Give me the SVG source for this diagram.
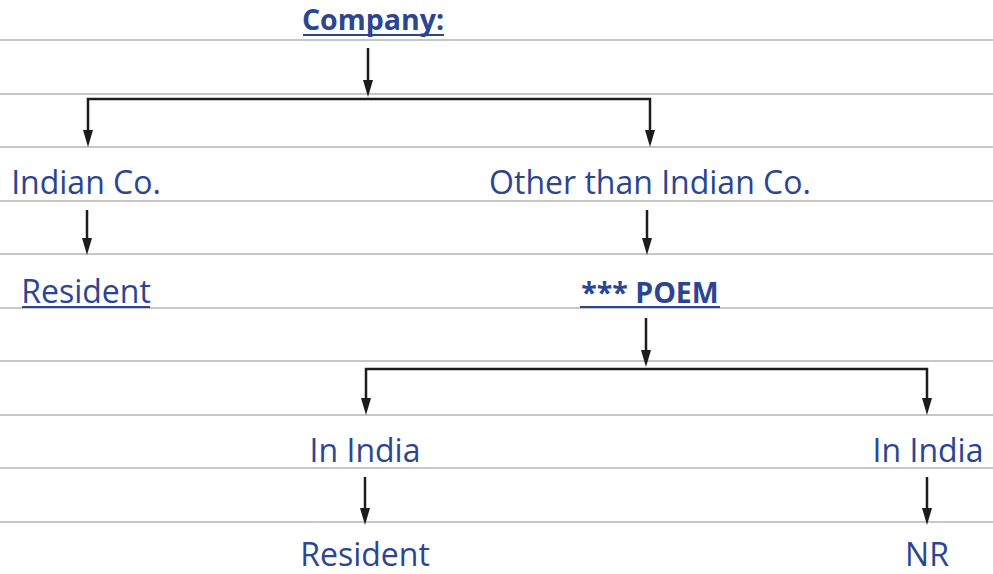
<svg xmlns="http://www.w3.org/2000/svg" width="993" height="574" viewBox="0 0 993 574">
  <style>
    .rule { stroke: #b4b4b4; stroke-width: 1.5; }
    .wire { stroke: #1c1c1c; stroke-width: 2.5; fill: none; }
    .head { fill: #1c1c1c; }
    .lbl { font-family: "Open Sans", "Noto Sans", sans-serif; font-size: 32px; fill: #2b4593; text-anchor: middle; }
    .bold { font-weight: bold; font-size: 28.5px; }
    .ul { stroke: #2b4593; stroke-width: 2; }
  </style>
  <rect width="993" height="574" fill="#ffffff"/>

  <!-- ruled background -->
  <g id="rules">
    <line class="rule" x1="0" y1="40" x2="993" y2="40"/>
    <line class="rule" x1="0" y1="94" x2="993" y2="94"/>
    <line class="rule" x1="0" y1="147" x2="993" y2="147"/>
    <line class="rule" x1="0" y1="201" x2="993" y2="201"/>
    <line class="rule" x1="0" y1="254" x2="993" y2="254"/>
    <line class="rule" x1="0" y1="308" x2="993" y2="308"/>
    <line class="rule" x1="0" y1="361" x2="993" y2="361"/>
    <line class="rule" x1="0" y1="415" x2="993" y2="415"/>
    <line class="rule" x1="0" y1="468" x2="993" y2="468"/>
    <line class="rule" x1="0" y1="522" x2="993" y2="522"/>
  </g>

  <!-- connectors -->
  <g id="connectors">
    <line class="wire" x1="368" y1="48" x2="368" y2="82"/>
    <path class="head" d="M363,80 L373,80 L368,97 Z"/>
    <polyline class="wire" points="88,130 88,99 650,99 650,130"/>
    <path class="head" d="M83,130 L93,130 L88,147 Z"/>
    <path class="head" d="M645,130 L655,130 L650,147 Z"/>

    <line class="wire" x1="87" y1="210" x2="87" y2="240"/>
    <path class="head" d="M82,238 L92,238 L87,255 Z"/>
    <line class="wire" x1="647" y1="210" x2="647" y2="240"/>
    <path class="head" d="M642,238 L652,238 L647,255 Z"/>

    <line class="wire" x1="646" y1="318" x2="646" y2="352"/>
    <path class="head" d="M641,350 L651,350 L646,367 Z"/>
    <polyline class="wire" points="366,399 366,369 927,369 927,399"/>
    <path class="head" d="M361,398 L371,398 L366,415 Z"/>
    <path class="head" d="M922,398 L932,398 L927,415 Z"/>

    <line class="wire" x1="365" y1="477" x2="365" y2="510"/>
    <path class="head" d="M360,508 L370,508 L365,525 Z"/>
    <line class="wire" x1="927" y1="477" x2="927" y2="510"/>
    <path class="head" d="M922,508 L932,508 L927,525 Z"/>
  </g>

  <!-- nodes -->
  <g id="company">
    <text class="lbl bold" x="373" y="30">Company:</text>
    <line class="ul" x1="303" y1="35" x2="444" y2="35"/>
  </g>
  <g id="indian-co">
    <text class="lbl" x="86" y="194">Indian Co.</text>
  </g>
  <g id="other-co">
    <text class="lbl" x="650" y="194">Other than Indian Co.</text>
  </g>
  <g id="resident-indian">
    <text class="lbl" x="86" y="303">Resident</text>
    <line class="ul" x1="22" y1="307" x2="150" y2="307"/>
  </g>
  <g id="poem">
    <text class="lbl bold" x="650" y="303">*** POEM</text>
    <line class="ul" x1="580" y1="307" x2="720" y2="307"/>
  </g>
  <g id="in-india-left">
    <text class="lbl" x="365" y="462">In India</text>
  </g>
  <g id="in-india-right">
    <text class="lbl" x="928" y="462">In India</text>
  </g>
  <g id="resident-left">
    <text class="lbl" x="365" y="566">Resident</text>
  </g>
  <g id="nr">
    <text class="lbl" x="927" y="566">NR</text>
  </g>
</svg>
